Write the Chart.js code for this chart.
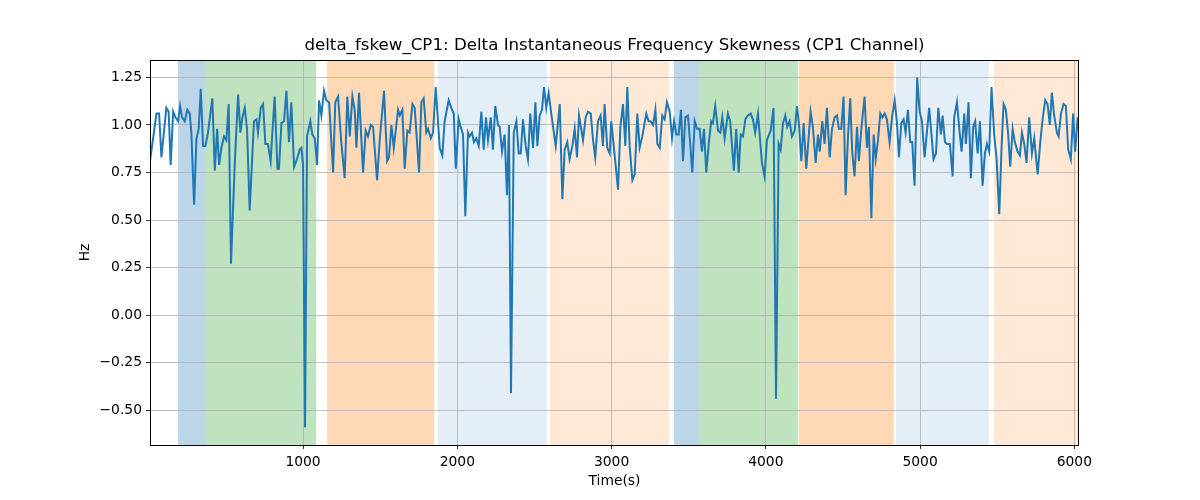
<!DOCTYPE html>
<html>
<head>
<meta charset="utf-8">
<title>delta_fskew_CP1</title>
<script src="https://cdn.jsdelivr.net/npm/chart.js@4.4.1/dist/chart.umd.min.js"></script>
<style>
  html, body { margin: 0; padding: 0; background: #fff; }
  canvas { display: block; }
</style>
</head>
<body>
<canvas id="chart" width="1200" height="500"></canvas>
<script>
// time stamps (s) and skewness values
const times = [
  8, 50, 67, 82, 114, 129, 142, 158, 173, 190, 203, 216, 233, 250, 266, 276, 294, 309, 324, 337,
  352, 367, 384, 412, 428, 443, 456, 471, 488, 503, 518, 533, 557, 579, 594, 607, 622, 637, 654, 682,
  698, 708, 726, 741, 756, 773, 790, 816, 834, 844, 860, 877, 892, 909, 924, 942, 961, 978, 989, 1000,
  1013, 1026, 1047, 1060, 1076, 1091, 1104, 1119, 1136, 1151, 1169, 1195, 1209, 1227, 1248, 1270, 1287, 1303, 1320, 1335,
  1346, 1363, 1389, 1406, 1421, 1439, 1454, 1480, 1497, 1525, 1545, 1557, 1573, 1588, 1616, 1627, 1644, 1659, 1676, 1691,
  1709, 1724, 1752, 1767, 1782, 1799, 1810, 1828, 1843, 1860, 1886, 1903, 1918, 1944, 1961, 1977, 1990, 2009, 2022, 2037,
  2052, 2069, 2080, 2095, 2108, 2123, 2139, 2156, 2171, 2186, 2199, 2217, 2231, 2246, 2264, 2275, 2290, 2307, 2322, 2335,
  2348, 2366, 2383, 2398, 2411, 2426, 2443, 2458, 2473, 2491, 2506, 2519, 2534, 2549, 2562, 2577, 2592, 2609, 2638, 2664,
  2681, 2696, 2713, 2728, 2746, 2761, 2776, 2789, 2815, 2832, 2847, 2865, 2880, 2894, 2912, 2929, 2944, 2955, 2972, 2988,
  2998, 3020, 3042, 3057, 3074, 3089, 3102, 3117, 3135, 3150, 3167, 3182, 3199, 3210, 3225, 3240, 3253, 3269, 3284, 3297,
  3312, 3329, 3344, 3359, 3377, 3392, 3405, 3420, 3435, 3450, 3463, 3478, 3495, 3510, 3523, 3539, 3554, 3571, 3586, 3599,
  3614, 3631, 3646, 3657, 3672, 3690, 3705, 3718, 3733, 3754, 3769, 3793, 3808, 3824, 3837, 3852, 3867, 3884, 3902, 3916,
  3931, 3949, 3975, 3992, 4007, 4031, 4050, 4066, 4083, 4096, 4111, 4126, 4139, 4154, 4169, 4187, 4202, 4215, 4230, 4245,
  4262, 4277, 4290, 4305, 4323, 4338, 4349, 4366, 4381, 4396, 4414, 4429, 4446, 4461, 4474, 4489, 4504, 4517, 4532, 4547,
  4560, 4575, 4591, 4603, 4619, 4640, 4655, 4668, 4684, 4699, 4712, 4727, 4742, 4755, 4770, 4785, 4802, 4818, 4835, 4850,
  4863, 4878, 4893, 4906, 4921, 4936, 4949, 4964, 4981, 4997, 5012, 5029, 5046, 5059, 5087, 5103, 5118, 5135, 5146, 5161,
  5174, 5193, 5211, 5221, 5239, 5254, 5269, 5286, 5297, 5314, 5329, 5344, 5357, 5373, 5388, 5405, 5420, 5433, 5448, 5463,
  5480, 5496, 5513, 5528, 5541, 5556, 5571, 5584, 5600, 5614, 5632, 5647, 5660, 5675, 5690, 5707, 5725, 5740, 5762, 5779,
  5794, 5811, 5826, 5841, 5854, 5869, 5887, 5898, 5913, 5930, 5945, 5960, 5977, 5992, 6005, 6021, 6030
];
const skewValues = [
  0.81, 1.06, 1.06, 0.83, 1.09, 1.07, 0.79, 1.07, 1.04, 1.02, 1.10, 1.04, 1.02, 1.08, 1.06, 0.96, 0.58, 0.93, 0.98, 1.19,
  0.89, 0.89, 0.96, 1.14, 0.76, 0.98, 0.79, 0.88, 0.94, 0.92, 1.11, 0.27, 0.79, 1.16, 0.96, 1.04, 1.09, 0.98, 0.55, 1.02,
  1.03, 0.96, 1.09, 1.11, 0.90, 0.90, 0.81, 1.15, 0.77, 0.77, 1.01, 1.02, 1.18, 0.91, 1.12, 0.78, 0.82, 0.87, 0.88, 0.79,
  -0.59, 0.94, 1.02, 0.95, 0.93, 0.79, 1.13, 1.05, 1.18, 1.13, 1.12, 0.75, 1.12, 1.15, 0.91, 0.72, 1.15, 0.94, 1.15, 1.08,
  0.88, 1.17, 0.75, 0.97, 0.94, 1.00, 0.99, 0.71, 0.92, 1.18, 0.81, 0.83, 1.00, 0.88, 1.08, 1.05, 1.08, 0.77, 0.97, 0.96,
  1.11, 1.09, 0.75, 1.12, 1.14, 0.96, 0.98, 0.93, 0.96, 1.20, 0.88, 0.84, 1.02, 1.13, 1.09, 1.06, 0.77, 1.03, 0.99, 0.95,
  0.52, 0.96, 0.94, 0.96, 0.91, 0.93, 0.89, 1.07, 0.87, 1.04, 0.92, 1.04, 0.87, 1.10, 1.00, 0.99, 0.86, 0.95, 0.63, 1.00,
  -0.41, 0.96, 1.02, 0.85, 0.85, 1.03, 0.89, 0.82, 1.06, 0.88, 1.12, 0.89, 1.05, 1.08, 1.20, 1.09, 1.17, 1.06, 0.89, 1.11,
  0.61, 0.87, 0.91, 0.82, 0.89, 0.98, 0.83, 1.05, 0.92, 1.04, 1.07, 1.06, 0.92, 0.83, 1.02, 1.05, 0.89, 1.11, 0.88, 0.85,
  1.02, 0.84, 0.66, 0.99, 1.11, 0.89, 1.20, 0.89, 0.71, 0.74, 1.06, 0.88, 0.94, 0.99, 1.06, 1.02, 1.02, 1.00, 1.08, 0.90,
  0.88, 1.05, 1.03, 1.12, 1.07, 0.93, 1.02, 0.95, 0.95, 1.08, 0.81, 1.04, 1.05, 0.90, 0.75, 1.02, 0.98, 0.98, 0.86, 0.98,
  0.75, 0.91, 1.02, 1.01, 1.10, 0.97, 0.96, 1.04, 0.93, 1.06, 1.02, 0.76, 0.98, 0.75, 0.95, 0.94, 1.03, 1.05, 1.06, 1.03,
  0.96, 1.06, 0.80, 0.73, 0.92, 0.97, 1.09, -0.44, 0.90, 0.87, 1.01, 1.05, 0.99, 1.02, 0.94, 0.97, 1.10, 1.00, 0.81, 1.01,
  0.77, 0.93, 1.07, 0.99, 0.80, 0.95, 0.86, 1.02, 0.90, 1.09, 0.83, 0.98, 1.04, 1.05, 0.98, 0.98, 1.15, 0.63, 0.93, 1.14,
  0.86, 0.73, 0.99, 0.81, 0.98, 1.15, 0.88, 0.99, 0.51, 0.95, 0.82, 0.92, 1.06, 1.04, 1.06, 1.03, 0.91, 1.04, 1.13, 1.01,
  0.83, 1.01, 1.03, 0.96, 1.08, 0.91, 0.91, 0.68, 1.25, 1.07, 1.02, 0.83, 0.98, 1.09, 0.82, 0.85, 1.09, 0.95, 1.05, 0.91,
  0.90, 0.90, 0.73, 1.04, 1.12, 0.98, 0.86, 1.06, 0.90, 1.12, 0.72, 0.99, 1.02, 0.85, 1.02, 0.68, 0.85, 0.90, 0.86, 1.20,
  0.95, 0.82, 0.53, 0.88, 1.11, 1.08, 0.95, 0.78, 0.98, 0.91, 0.86, 0.84, 0.96, 0.90, 0.80, 1.04, 0.85, 0.93, 0.74, 0.91,
  1.03, 1.13, 1.11, 1.00, 1.17, 1.05, 0.96, 0.94, 1.06, 1.11, 1.10, 0.87, 0.82, 1.06, 0.86, 1.04, 0.97
];

// shaded segments (start, end in seconds)
const bandStarts = [190, 365, 1156, 1875, 2600, 3405, 3567, 4214, 4843, 5479];
const bandEnds   = [365, 1085, 1850, 2581, 3372, 3567, 4208, 4830, 5446, 6030];
const bandColors = [
  'rgba(31,119,180,0.3)', 'rgba(44,160,44,0.3)', 'rgba(255,127,14,0.3)', 'rgba(31,119,180,0.12)', 'rgba(255,127,14,0.17)',
  'rgba(31,119,180,0.3)', 'rgba(44,160,44,0.3)', 'rgba(255,127,14,0.3)', 'rgba(31,119,180,0.12)', 'rgba(255,127,14,0.17)'
];

const xTicks = [1000, 2000, 3000, 4000, 5000, 6000];
const yTicks = [-0.5, -0.25, 0, 0.25, 0.5, 0.75, 1.0, 1.25];

const FONT = 'DejaVu Sans';

// bands go under the grid, like axvspan below the gridlines
const bandPlugin = {
  id: 'bands',
  beforeDraw(chart) {
    const { ctx, chartArea, scales } = chart;
    ctx.save();
    ctx.beginPath();
    ctx.rect(chartArea.left, chartArea.top, chartArea.right - chartArea.left, chartArea.bottom - chartArea.top);
    ctx.clip();
    bandStarts.forEach((s, i) => {
      const x0 = scales.x.getPixelForValue(s);
      const x1 = scales.x.getPixelForValue(bandEnds[i]);
      ctx.fillStyle = bandColors[i];
      ctx.fillRect(x0, chartArea.top, x1 - x0, chartArea.bottom - chartArea.top);
    });
    ctx.restore();
  }
};

const framePlugin = {
  id: 'frame',
  afterDraw(chart) {
    const { ctx, chartArea } = chart;
    ctx.save();
    ctx.strokeStyle = '#000';
    ctx.lineWidth = 1;
    ctx.strokeRect(chartArea.left + 0.5, chartArea.top + 0.5,
      chartArea.right - chartArea.left - 1, chartArea.bottom - chartArea.top);
    ctx.restore();
  }
};

new Chart(document.getElementById('chart'), {
  type: 'line',
  data: {
    datasets: [{
      data: times.map((t, i) => ({ x: t, y: skewValues[i] })),
      borderColor: '#1f77b4',
      borderWidth: 2,
      pointRadius: 0,
      tension: 0,
      fill: false
    }]
  },
  options: {
    responsive: false,
    animation: false,
    devicePixelRatio: 1,
    layout: { padding: { left: 0, right: 121, top: 0, bottom: 0 } },
    plugins: {
      legend: { display: false },
      tooltip: { enabled: false },
      title: {
        display: true,
        text: 'delta_fskew_CP1: Delta Instantaneous Frequency Skewness (CP1 Channel)',
        fullSize: false,
        color: '#000',
        font: { family: FONT, size: 16.67, weight: 'normal' },
        padding: { top: 36, bottom: 4 }
      }
    },
    scales: {
      x: {
        type: 'linear',
        min: 8,
        max: 6030,
        afterFit: (s) => { s.height = 55; },
        afterBuildTicks: (s) => { s.ticks = xTicks.map(v => ({ value: v })); },
        grid: { color: '#b0b0b0', lineWidth: 0.8, tickColor: '#000', tickLength: 4 },
        border: { display: false },
        ticks: {
          color: '#000',
          font: { family: FONT, size: 13.89 },
          padding: 5,
          maxRotation: 0,
          callback: (v) => String(v)
        },
        title: {
          display: true,
          text: 'Time(s)',
          color: '#000',
          font: { family: FONT, size: 13.89 },
          padding: { top: 0, bottom: 10 }
        }
      },
      y: {
        type: 'linear',
        min: -0.684,
        max: 1.342,
        afterFit: (s) => { s.width = 150; },
        afterBuildTicks: (s) => { s.ticks = yTicks.map(v => ({ value: v })); },
        grid: { color: '#b0b0b0', lineWidth: 0.8, tickColor: '#000', tickLength: 4 },
        border: { display: false },
        ticks: {
          color: '#000',
          font: { family: FONT, size: 13.89 },
          padding: 4,
          callback: (v) => v.toFixed(2).replace('-', '\u2212')
        },
        title: {
          display: true,
          text: 'Hz',
          color: '#000',
          font: { family: FONT, size: 13.89 },
          padding: { top: 77, bottom: 0 }
        }
      }
    }
  },
  plugins: [bandPlugin, framePlugin]
});
</script>
</body>
</html>
